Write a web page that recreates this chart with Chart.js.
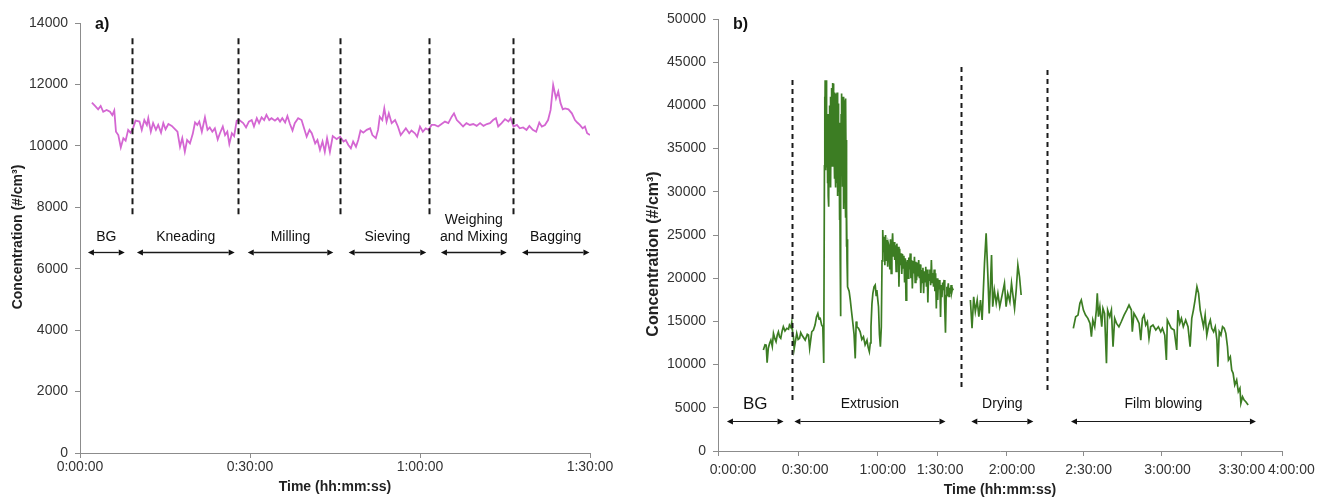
<!DOCTYPE html>
<html>
<head>
<meta charset="utf-8">
<title>Particle concentration during processing</title>
<script src="https://cdn.jsdelivr.net/npm/chart.js@4.4.0/dist/chart.umd.min.js"></script>
<style>
  html, body { margin: 0; padding: 0; background: #fff; }
  #wrap { position: relative; width: 1321px; height: 499px; }
  canvas { position: absolute; top: 0; }
  #chartA { left: 0; }
  #chartB { left: 640px; }
</style>
</head>
<body>
<div id="wrap">
  <canvas id="chartA" width="640" height="499"></canvas>
  <canvas id="chartB" width="681" height="499"></canvas>
</div>
<script>
// panel a) - time in minutes, concentration in #/cm3
const aTime = [
  2.1, 2.65, 3.2, 3.65, 4.1, 4.7, 5.3, 5.7, 6.05, 6.35,
  6.76, 7.2, 7.65, 8.05, 8.5, 8.9, 9.3, 9.8, 10.5, 10.9,
  11.35, 11.8, 12.05, 12.5, 12.9, 13.4, 13.8, 14.3, 14.7, 15.1,
  15.6, 16.2, 16.8, 17.2, 17.65, 18.05, 18.5, 18.9, 19.4, 19.9,
  20.3, 20.7, 21.05, 21.5, 22.05, 22.5, 22.9, 23.35, 23.8, 24.3,
  24.7, 25.2, 25.6, 26.0, 26.35, 26.8, 27.2, 27.65, 28.1, 28.8,
  29.3, 29.8, 30.3, 30.7, 31.2, 31.6, 32.05, 32.5, 32.9, 33.4,
  33.8, 34.4, 34.9, 35.3, 35.7, 36.2, 36.6, 37.05, 37.5, 37.9,
  38.5, 39.1, 39.5, 40.0, 40.5, 40.9, 41.5, 41.9, 42.35, 42.8,
  43.2, 43.6, 44.1, 44.6, 45.3, 45.9, 46.5, 46.9, 47.35, 47.8,
  48.2, 48.7, 49.1, 49.5, 50.0, 50.6, 51.2, 51.6, 52.2, 52.6,
  52.9, 53.35, 53.7, 54.1, 54.5, 55.0, 55.6, 56.1, 56.6, 57.05,
  57.5, 58.1, 58.5, 59.1, 59.5, 60.0, 60.5, 61.0, 61.5, 62.05,
  62.6, 63.2, 63.8, 64.4, 65.0, 65.6, 66.0, 66.5, 67.05, 67.6,
  68.2, 68.8, 69.4, 70.0, 70.6, 71.2, 71.8, 72.35, 72.9, 73.4,
  73.8, 74.4, 75.0, 75.6, 76.0, 76.5, 77.1, 77.6, 78.2, 78.8,
  79.3, 79.9, 80.5, 81.05, 81.5, 82.05, 82.6, 83.05, 83.5, 84.0,
  84.4, 84.8, 85.2, 85.6, 86.2, 86.8, 87.35, 87.75, 88.2, 88.7,
  89.1, 89.5, 90.0
];
const aConc = [
  11407, 11300, 11190, 11300, 11110, 11170, 11110, 11000, 11150, 10460,
  10350, 9950, 10250, 10170, 10520, 10430, 10540, 10820, 10790, 10520,
  10840, 10680, 10900, 10460, 10740, 10520, 10680, 10430, 10740, 10540,
  10710, 10650, 10540, 10460, 9970, 10250, 9810, 10190, 10080, 10390,
  10760, 10680, 10790, 10460, 10930, 10520, 10600, 10460, 10570, 10210,
  10410, 10630, 10350, 10460, 10060, 10410, 10320, 10820, 10840, 10740,
  10600, 10790, 10840, 10630, 10900, 10740, 10930, 10840, 11010, 10840,
  10900, 10820, 10900, 10790, 10900, 10760, 10970, 10710, 10500, 10740,
  10900, 10840, 10600, 10300, 10520, 10410, 10080, 10190, 9870, 10140,
  9810, 10250, 9800, 10320, 10220, 10300, 10140, 10190, 10030, 9920,
  10140, 9970, 10190, 10500, 10430, 10520, 10570, 10350, 10250, 10520,
  10950, 10840, 11220, 10790, 11060, 10740, 10840, 10630, 10350, 10460,
  10570, 10410, 10500, 10410, 10300, 10630, 10460, 10570, 10520, 10680,
  10680, 10630, 10710, 10790, 10740, 10950, 11060, 10840, 10740, 10630,
  10740, 10680, 10710, 10650, 10740, 10650, 10710, 10740, 10840, 10900,
  10630, 10740, 10870, 10790, 10900, 10630, 10680, 10570, 10600, 10520,
  10650, 10520, 10460, 10760, 10630, 10680, 10840, 11170, 11980, 11550,
  11770, 11390, 11190, 11220, 11190, 11060, 10840, 10760, 10680, 10570,
  10630, 10410, 10350
];
const aTickValues = [0, 30, 60, 90];
const aLabelValues = [0, 30, 60, 90];
const aTickLabels = ['0:00:00', '0:30:00', '1:00:00', '1:30:00'];
const aDividers = [9.2, 27.9, 45.9, 61.6, 76.4];
const aDividerTop = [13500, 13500, 13500, 13500, 13500];
const aDividerBottom = [7750, 7750, 7750, 7750, 7750];
const aPhases = ['BG', 'Kneading', 'Milling', 'Sieving', 'Weighing\nand Mixing', 'Bagging'];
const aPhaseFrom = [1.4, 10.05, 29.6, 47.4, 63.7, 78.0];
const aPhaseTo = [7.9, 27.3, 44.7, 61.1, 75.3, 89.9];

// panel b) - background and start of extrusion
const bEarlyTime = [
  19.3, 20.0, 20.5, 20.9, 21.4, 22.0, 22.5, 23.1, 23.6, 24.2,
  24.7, 25.2, 25.7, 26.2, 26.7, 27.3, 27.8, 28.5, 29.3, 30.0,
  30.4, 31.0, 31.4, 31.8, 32.1, 32.4, 33.5, 34.1, 34.7, 35.2,
  35.7, 37.1, 38.0, 38.5, 39.0, 39.9, 40.6, 41.3, 41.9, 42.5,
  43.0, 43.5, 44.1, 44.6, 45.0
];
const bEarlyConc = [
  11690, 12300, 12260, 10220, 11900, 12500, 12840, 12100, 13620, 13000,
  12650, 13400, 13800, 13200, 13040, 13900, 14380, 13900, 14200, 14100,
  14580, 14300, 14900, 13600, 13220, 11800, 13620, 12900, 13040, 13700,
  13420, 12840, 13500, 13420, 11900, 13800, 14000, 14580, 15500, 15930,
  15300, 15350, 14600, 14380, 10200
];
// extrusion burst
const bBurstTime = [
  45.3, 45.4, 45.5, 45.6, 45.7, 45.8, 45.9, 46.0, 46.1, 46.2,
  46.3, 46.4, 46.5, 46.6, 46.7, 46.8, 46.9, 47.0, 47.1, 47.2,
  47.3, 47.4, 47.5, 47.6, 47.7, 47.8, 47.9, 48.0, 48.1, 48.2,
  48.3, 48.4, 48.5, 48.6, 48.7, 48.8, 48.9, 49.0, 49.1, 49.2,
  49.3, 49.4, 49.5, 49.6, 49.7, 49.8, 49.9, 50.0, 50.1, 50.2,
  50.3, 50.4, 50.5, 50.6, 50.7, 50.8, 50.9, 51.0, 51.1, 51.2,
  51.3, 51.4, 51.5, 51.6, 51.7, 51.8, 51.9, 52.0, 52.1, 52.2,
  52.3, 52.4, 52.5, 52.6, 52.7, 52.8, 52.9, 53.0, 53.1, 53.2,
  53.3, 53.4, 53.5, 53.6, 53.7, 53.8, 53.9, 54.0, 54.1, 54.2,
  54.3, 54.4, 54.5, 54.6, 54.7, 54.8, 54.9, 55.0, 55.1, 55.3
];
const bBurstConc = [
  33000, 41000, 36000, 42900, 32500, 40500, 34000, 42920, 33500, 39800,
  32800, 38500, 31000, 39000, 33000, 38000, 29500, 37000, 32000, 28260,
  39000, 35000, 40000, 33500, 39450, 31500, 41000, 30500, 37500, 33000,
  40500, 34500, 42000, 33000, 41000, 35500, 42600, 36000, 42540, 33000,
  41500, 34500, 40000, 31500, 41500, 33500, 40500, 30500, 41000, 34000,
  41380, 31000, 40500, 35000, 41500, 31350, 39000, 29500, 40000, 32000,
  40230, 30000, 38000, 26730, 37000, 30000, 36000, 22000, 35000, 15600,
  30000, 39000, 33000, 41380, 34000, 40500, 30580, 39000, 32000, 41000,
  29000, 40990, 28000, 38000, 31000, 40500, 29000, 40610, 30000, 39000,
  27000, 40800, 32000, 36000, 23640, 28000, 22000, 24500, 20000, 19010
];
// decay after the burst
const bMidTime = [
  55.8, 56.3, 56.8, 57.4, 57.9, 58.4, 58.8, 59.1, 59.8, 60.5,
  61.2, 61.9, 62.6, 63.4, 63.9, 64.4, 64.8, 65.1, 65.5, 65.9,
  66.4, 66.9, 67.3, 67.6, 68.0, 68.3, 68.7, 69.1, 69.5
];
const bMidConc = [
  18500, 17470, 16200, 14770, 13500, 10720, 15000, 14380, 14200, 13800,
  12900, 13220, 12300, 12840, 12000, 11490, 12500, 14380, 17000, 18250,
  19000, 19210, 18000, 18630, 17500, 16700, 13500, 12070, 14380
];
// second extrusion stretch
const bLateTime = [
  69.8, 70.1, 70.4, 70.7, 71.0, 71.3, 71.6, 71.9, 72.2, 72.5,
  72.8, 73.1, 73.4, 73.7, 74.0, 74.3, 74.6, 74.9, 75.2, 75.5,
  75.8, 76.1, 76.4, 76.7, 77.0, 77.3, 77.6, 77.9, 78.2, 78.5,
  78.8, 79.1, 79.4, 79.7, 80.0, 80.3, 80.6, 80.9, 81.2, 81.5,
  81.8, 82.1, 82.4, 82.7, 83.0, 83.3, 83.6, 83.9, 84.2, 84.5,
  84.8, 85.1, 85.4, 85.7, 86.0, 86.3, 86.6, 86.9, 87.2, 87.5,
  87.8, 88.1, 88.4, 88.7, 89.0, 89.3, 89.6, 89.9, 90.2, 90.5,
  90.8, 91.1, 91.4, 91.7, 92.0, 92.3, 92.6, 92.9, 93.2, 93.5,
  93.8, 94.1, 94.4, 94.7, 95.0, 95.3, 95.6, 95.9, 96.2, 96.5,
  96.8, 97.1, 97.4, 97.7, 98.0, 98.3, 98.6, 98.9, 99.2, 99.5,
  99.8, 100.1
];
const bLateConc = [
  22000, 25570, 23000, 24800, 21500, 25000, 22100, 24410, 21320, 24000,
  23640, 21000, 24500, 20560, 23500, 25190, 22500, 24200, 22100, 23800,
  20800, 24000, 22300, 23640, 19010, 23400, 21500, 22870, 20500, 22800,
  21200, 22600, 19500, 22300, 17470, 21500, 22100, 20000, 22400, 21000,
  22870, 20000, 22100, 18800, 22000, 20560, 22480, 19500, 21900, 19780,
  21800, 20200, 22100, 20000, 21600, 18300, 20940, 19500, 21200, 18250,
  20800, 19600, 21320, 19000, 21000, 17200, 20500, 19780, 21000, 19200,
  22100, 19500, 20600, 19010, 21000, 18500, 20560, 16500, 20000, 17470,
  19800, 18800, 19780, 15500, 19200, 17800, 19500, 18600, 19800, 16500,
  13700, 18000, 19010, 18500, 19400, 17900, 18900, 18200, 19200, 18400,
  18800, 18600
];
const bDryingTime = [
  107.4, 108.1, 108.8, 109.5, 110.3, 111.0, 111.7, 112.4, 112.8, 113.4,
  114.1, 114.8, 115.4, 115.9, 116.4, 116.9, 117.6, 118.4, 119.1, 119.9,
  120.9, 121.9, 122.6, 123.3, 124.2, 124.9, 125.6, 126.2, 126.9, 127.6,
  128.3, 129.0
];
const bDryingConc = [
  17470, 14200, 17850, 16120, 17470, 15540, 17470, 15160, 17850, 21720,
  25190, 20560, 15930, 19010, 22680, 16700, 18630, 17090, 18250, 16700,
  18050, 19400, 16700, 18250, 17280, 19400, 17850, 16510, 18630, 21520,
  20170, 18050
];
const bFilmTime = [
  151.2, 152.2, 153.2, 154.0, 154.6, 155.5, 156.4, 157.4, 158.3, 158.9,
  159.5, 160.3, 161.0, 161.4, 161.9, 162.5, 163.3, 163.8, 164.5, 165.3,
  165.8, 166.7, 167.4, 168.1, 168.8, 169.6, 170.6, 171.6, 172.8, 173.9,
  174.9, 175.9, 176.3, 177.0, 178.2, 179.2, 179.9, 180.6, 181.3, 182.0,
  182.7, 183.4, 184.1, 185.1, 186.3, 187.4, 188.4, 189.1, 190.1, 190.8,
  191.2, 191.9, 192.9, 194.1, 195.2, 195.7, 196.5, 197.2, 198.0, 199.0,
  200.0, 200.9, 201.6, 202.3, 203.0, 203.8, 204.5, 205.2, 205.9, 206.6,
  207.3, 208.0, 208.8, 209.5, 210.1, 210.9, 211.6, 212.3, 212.7, 213.3,
  214.0, 214.7, 215.4, 216.1, 216.8, 217.2, 218.0, 218.6, 219.2, 219.9,
  220.7, 221.4, 222.1, 222.5, 223.2, 223.9, 224.6, 225.6
];
const bFilmConc = [
  14200, 15540, 15730, 17090, 17470, 16310, 15730, 15350, 14770, 13220,
  15160, 14380, 16310, 18250, 15540, 16700, 14380, 16510, 15930, 10150,
  16310, 15540, 16310, 12070, 15350, 14770, 14380, 14960, 15730, 16310,
  16890, 16310, 13800, 15930, 15350, 14770, 12840, 15350, 15730, 14580,
  14960, 13040, 14380, 14580, 14000, 14380, 13800, 14200, 13420, 10530,
  15160, 14770, 14200, 14000, 11690, 16310, 14770, 15350, 14380, 15160,
  14380, 12070, 15350, 16310, 17470, 19010, 18250, 16310, 15350, 14380,
  15730, 13420, 14580, 15160, 14200, 13800, 14380, 12840, 9760, 13800,
  13420, 14380, 14200, 13620, 12070, 10530, 10910, 9370, 8990, 7640,
  8220, 6860, 7250, 5520, 6280, 5900, 5700, 5320
];
// the time axis of b) is not evenly spaced in the original figure
const bTickValues = [0, 34.4, 67.8, 93.6, 122.8, 155.6, 188.8, 222.9, 240];
const bLabelValues = [6.4, 37.1, 70.1, 94.5, 125.1, 157.7, 191.3, 222.9, 244];
const bTickLabels = ['0:00:00', '0:30:00', '1:00:00', '1:30:00', '2:00:00', '2:30:00', '3:00:00', '3:30:00', '4:00:00'];
const bDividers = [31.5, 103.6, 139.8];
const bDividerTop = [42940, 44440, 44100];
const bDividerBottom = [5560, 7290, 6940];
const bPhases = ['BG', 'Extrusion', 'Drying', 'Film blowing'];
const bPhaseFrom = [3.8, 32.5, 107.8, 150.2];
const bPhaseTo = [27.9, 96.8, 134.2, 228.9];

const FONT = "'Liberation Sans', Arial, sans-serif";
Chart.defaults.font.family = FONT;
Chart.defaults.color = '#333';

function pairs(xs, ys) {
    return xs.map((t, i) => ({ x: t, y: ys[i] }));
}

function drawArrow(ctx, x1, x2, yy, head) {
    ctx.beginPath();
    ctx.moveTo(x1 + head, yy);
    ctx.lineTo(x2 - head, yy);
    ctx.stroke();
    ctx.beginPath();
    ctx.moveTo(x1, yy);
    ctx.lineTo(x1 + head, yy - head * 0.5);
    ctx.lineTo(x1 + head, yy + head * 0.5);
    ctx.closePath();
    ctx.fill();
    ctx.beginPath();
    ctx.moveTo(x2, yy);
    ctx.lineTo(x2 - head, yy - head * 0.5);
    ctx.lineTo(x2 - head, yy + head * 0.5);
    ctx.closePath();
    ctx.fill();
}

// dashed phase dividers, arrows, phase names, y title and the panel letter
const phasePlugin = {
    id: 'phases',
    afterDraw(chart, args, o) {
        const { ctx, scales: { x, y }, chartArea } = chart;
        ctx.save();
        ctx.strokeStyle = '#1a1a1a';
        ctx.fillStyle = '#111';
        ctx.lineWidth = o.dashWidth;
        ctx.setLineDash(o.dash);
        o.dividers.forEach((d, i) => {
            const px = Math.round(x.getPixelForValue(d)) + 0.5;
            ctx.beginPath();
            ctx.moveTo(px, y.getPixelForValue(o.top[i]));
            ctx.lineTo(px, y.getPixelForValue(o.bottom[i]));
            ctx.stroke();
        });
        ctx.setLineDash([]);
        ctx.lineWidth = o.arrowWidth;
        const ay = Math.round(y.getPixelForValue(o.arrowAt)) + 0.5;
        const ly = y.getPixelForValue(o.labelAt);
        ctx.textAlign = 'center';
        ctx.textBaseline = 'middle';
        o.names.forEach((name, i) => {
            const x1 = x.getPixelForValue(o.from[i]);
            const x2 = x.getPixelForValue(o.to[i]);
            drawArrow(ctx, x1, x2, ay, 6);
            const size = (o.bigNames || []).includes(name) ? 17 : 14;
            ctx.font = size + 'px ' + FONT;
            const lines = name.split('\n');
            lines.forEach((ln, k) => {
                ctx.fillText(ln, (x1 + x2) / 2, ly - (lines.length - 1 - k) * 17);
            });
        });

        // y axis title
        ctx.save();
        ctx.fillStyle = '#222';
        ctx.font = 'bold ' + o.yTitleSize + 'px ' + FONT;
        ctx.translate(o.yTitleX, o.yTitleY);
        ctx.rotate(-Math.PI / 2);
        ctx.fillText('Concentration (#/cm³)', 0, 0);
        ctx.restore();

        ctx.font = 'bold 16px ' + FONT;
        ctx.textAlign = 'left';
        ctx.fillText(o.letter, chartArea.left + 15, 25);
        ctx.restore();
    }
};

function makeOptions(cfg) {
    return {
        responsive: false,
        animation: false,
        events: [],
        layout: { padding: { top: cfg.padTop, right: cfg.padRight, left: 0, bottom: 0 } },
        elements: { point: { radius: 0 }, line: { tension: 0 } },
        plugins: {
            legend: { display: false },
            tooltip: { enabled: false },
            phases: cfg.phases
        },
        scales: {
            // tick marks only
            x: {
                type: 'linear',
                position: 'bottom',
                weight: 0,
                min: 0,
                max: cfg.xMax,
                afterFit: s => { s.height = 5; },
                afterBuildTicks: s => { s.ticks = cfg.tickValues.map(v => ({ value: v })); },
                grid: { drawOnChartArea: false, tickLength: 5, color: '#8c8c8c' },
                border: { color: '#8c8c8c' },
                ticks: { display: false }
            },
            // tick labels and axis title
            xLabels: {
                type: 'linear',
                position: 'bottom',
                weight: 1,
                min: 0,
                max: cfg.xMax,
                afterFit: s => { s.height = cfg.xHeight - 5; },
                afterBuildTicks: s => { s.ticks = cfg.labelValues.map(v => ({ value: v })); },
                grid: { display: false, drawTicks: false },
                border: { display: false },
                ticks: {
                    autoSkip: false,
                    maxRotation: 0,
                    padding: cfg.xTickPad,
                    font: { size: 14 },
                    color: '#333',
                    callback: (v, i) => cfg.tickLabels[i]
                },
                title: {
                    display: true,
                    text: 'Time (hh:mm:ss)',
                    font: { size: 14, weight: 'bold' },
                    color: '#222',
                    padding: { top: 0, bottom: cfg.xTitlePad }
                }
            },
            y: {
                min: 0,
                max: cfg.yMax,
                afterFit: s => { s.width = cfg.yWidth; },
                grid: { drawOnChartArea: false, tickLength: 5, color: '#8c8c8c' },
                border: { color: '#8c8c8c' },
                ticks: {
                    stepSize: cfg.yStep,
                    padding: 7,
                    font: { size: 14 },
                    color: '#333',
                    callback: v => String(v)
                }
            }
        }
    };
}

new Chart(document.getElementById('chartA'), {
    type: 'line',
    data: {
        datasets: [{
            data: pairs(aTime, aConc),
            borderColor: '#d466d2',
            borderWidth: 1.8
        }]
    },
    options: makeOptions({
        padTop: 23, padRight: 50, xMax: 90, xHeight: 46, yWidth: 80,
        yMax: 14000, yStep: 2000, xTickPad: 1, xTitlePad: 3,
        tickValues: aTickValues, labelValues: aLabelValues, tickLabels: aTickLabels,
        phases: {
            letter: 'a)', dividers: aDividers, top: aDividerTop, bottom: aDividerBottom,
            dash: [6, 4], dashWidth: 2, arrowWidth: 1.3,
            names: aPhases, from: aPhaseFrom, to: aPhaseTo, arrowAt: 6550, labelAt: 7040,
            yTitleX: 18, yTitleY: 237, yTitleSize: 14
        }
    }),
    plugins: [phasePlugin]
});

const bStyle = { borderColor: '#3c7d23', borderWidth: 1.7 };
new Chart(document.getElementById('chartB'), {
    type: 'line',
    data: {
        datasets: [
            Object.assign({
                data: pairs(bEarlyTime.concat(bBurstTime, bMidTime, bLateTime),
                            bEarlyConc.concat(bBurstConc, bMidConc, bLateConc))
            }, bStyle),
            Object.assign({ data: pairs(bDryingTime, bDryingConc) }, bStyle),
            Object.assign({ data: pairs(bFilmTime, bFilmConc) }, bStyle)
        ]
    },
    options: makeOptions({
        padTop: 19, padRight: 39, xMax: 240, xHeight: 48, yWidth: 78,
        yMax: 50000, yStep: 5000, xTickPad: 6, xTitlePad: 0,
        tickValues: bTickValues, labelValues: bLabelValues, tickLabels: bTickLabels,
        phases: {
            letter: 'b)', dividers: bDividers, top: bDividerTop, bottom: bDividerBottom,
            dash: [5, 4], dashWidth: 2, arrowWidth: 1,
            names: bPhases, from: bPhaseFrom, to: bPhaseTo, arrowAt: 3500, labelAt: 5400,
            bigNames: ['BG'],
            yTitleX: 14, yTitleY: 254, yTitleSize: 16
        }
    }),
    plugins: [phasePlugin]
});
</script>
</body>
</html>
